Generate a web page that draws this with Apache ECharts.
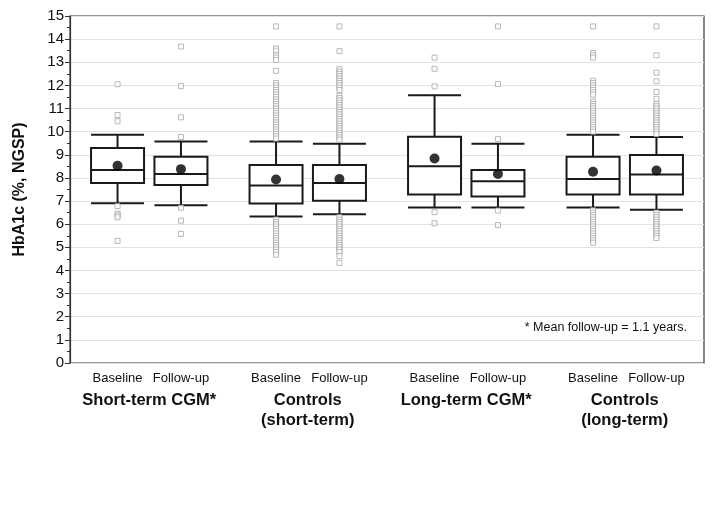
<!DOCTYPE html>
<html>
<head>
<meta charset="utf-8">
<script src="https://cdn.jsdelivr.net/npm/echarts@6/dist/echarts.min.js"></script>
<style>html,body{margin:0;padding:0;background:#fff;}#chart{width:719px;height:511px;}</style>
</head>
<body>
<div id="chart"></div>
<script>
// ---- data ----
const boxLabels = ['Baseline', 'Follow-up', 'Baseline', 'Follow-up', 'Baseline', 'Follow-up', 'Baseline', 'Follow-up'];
const groupLabels = ['Short-term CGM*', 'Controls\n(short-term)', 'Long-term CGM*', 'Controls\n(long-term)'];
const yTicks = [0, 15, 1];
const whiskerLow = [6.91, 6.82, 6.33, 6.43, 6.72, 6.72, 6.72, 6.62];
const q1Values = [7.78, 7.69, 6.89, 7.01, 7.28, 7.20, 7.28, 7.28];
const medianValues = [8.34, 8.17, 7.67, 7.78, 8.50, 7.86, 7.95, 8.15];
const q3Values = [9.29, 8.92, 8.56, 8.56, 9.78, 8.34, 8.92, 8.99];
const whiskerHigh = [9.87, 9.58, 9.58, 9.48, 11.57, 9.48, 9.87, 9.77];
const meanValues = [8.53, 8.38, 7.93, 7.95, 8.84, 8.17, 8.27, 8.32];
const outliers1 = [12.05, 10.72, 10.45, 6.78, 6.45, 6.38, 6.30, 5.28];
const outliers2 = [13.68, 11.97, 10.62, 9.77, 6.71, 6.15, 5.58];
const outliers3 = [14.55, 13.6, 13.5, 13.3, 13.2, 13.1, 12.63, 12.1, 12.0, 11.9, 11.8, 11.7, 11.6, 11.5, 11.4, 11.3, 11.2, 11.1, 11.0, 10.9, 10.8, 10.7, 10.6, 10.5, 10.4, 10.3, 10.2, 10.1, 10.0, 9.9, 9.8, 9.7,
  6.2, 6.1, 6.0, 5.9, 5.8, 5.7, 5.6, 5.5, 5.4, 5.3, 5.2, 5.1, 5.0, 4.9, 4.8, 4.68];
const outliers4 = [14.55, 13.48, 12.7, 12.6, 12.5, 12.4, 12.3, 12.2, 12.1, 12.0, 11.9, 11.8, 11.55, 11.45, 11.35, 11.25, 11.15, 11.05, 10.95, 10.85, 10.75, 10.65, 10.55, 10.45, 10.35, 10.25, 10.15, 10.05, 9.95, 9.85, 9.75, 9.65,
  6.3, 6.2, 6.1, 6.0, 5.9, 5.8, 5.7, 5.6, 5.5, 5.4, 5.3, 5.2, 5.1, 5.0, 4.9, 4.8, 4.62, 4.33];
const outliers5 = [13.2, 12.72, 11.96, 6.52, 6.04];
const outliers6 = [14.55, 12.06, 9.68, 6.59, 5.96];
const outliers7 = [14.55, 13.4, 13.3, 13.2, 12.2, 12.1, 12.0, 11.9, 11.8, 11.7, 11.6, 11.3, 11.2, 11.1, 11.0, 10.9, 10.8, 10.7, 10.6, 10.5, 10.4, 10.3, 10.2, 10.1, 10.0,
  6.6, 6.5, 6.4, 6.3, 6.2, 6.1, 6.0, 5.9, 5.8, 5.7, 5.6, 5.5, 5.4, 5.3, 5.2];
const outliers8 = [14.55, 13.3, 12.55, 12.18, 11.72, 11.42, 11.2, 11.1, 11.0, 10.9, 10.8, 10.7, 10.6, 10.5, 10.4, 10.3, 10.2, 10.1, 10.0, 9.9,
  6.5, 6.4, 6.3, 6.2, 6.1, 6.0, 5.9, 5.8, 5.7, 5.6, 5.5, 5.4];
const outlierLists = [outliers1, outliers2, outliers3, outliers4, outliers5, outliers6, outliers7, outliers8];
const footnote = '* Mean follow-up = 1.1 years.';

// ---- layout helpers ----
const SLOTS = 20;
function slotOf(i) { return Math.floor(i / 2) * 5 + 1 + 2 * (i % 2); }
const slotBoxLabels = new Array(SLOTS).fill('');
const slotGroupLabels = new Array(SLOTS).fill('');
boxLabels.forEach((l, i) => { slotBoxLabels[slotOf(i)] = l; });
groupLabels.forEach((l, g) => { slotGroupLabels[g * 5 + 2] = l; });

const boxData = boxLabels.map((_, i) => [slotOf(i), whiskerLow[i], q1Values[i], medianValues[i], q3Values[i], whiskerHigh[i]]);
const meanData = meanValues.map((v, i) => [slotOf(i), v]);
const outlierData = [];
outlierLists.forEach((list, i) => list.forEach(v => outlierData.push([slotOf(i), v])));

const FONT = '"Liberation Sans", Arial, Helvetica, sans-serif';
const chart = echarts.init(document.getElementById('chart'));
chart.setOption({
  animation: false,
  backgroundColor: '#fff',
  grid: { left: 70, right: 15, top: 16, bottom: 148, show: true, borderColor: '#333', borderWidth: 1.2, backgroundColor: 'transparent' },
  xAxis: [
    { type: 'value', min: -0.5, max: SLOTS - 0.5, show: false },
    { type: 'category', data: slotBoxLabels, position: 'bottom', boundaryGap: true,
      axisLine: { show: false }, axisTick: { show: false }, splitLine: { show: false },
      axisLabel: { interval: 0, margin: 9, fontFamily: FONT, fontSize: 13, color: '#111' } },
    { type: 'category', data: slotGroupLabels, position: 'bottom', boundaryGap: true,
      axisLine: { show: false }, axisTick: { show: false }, splitLine: { show: false },
      axisLabel: { interval: 0, margin: 27, fontFamily: FONT, fontSize: 16.5, fontWeight: 'bold', lineHeight: 20, color: '#111' } }
  ],
  yAxis: {
    type: 'value', min: yTicks[0], max: yTicks[1], interval: yTicks[2],
    name: 'HbA1c (%, NGSP)', nameLocation: 'middle', nameGap: 42,
    nameTextStyle: { fontFamily: FONT, fontSize: 16, fontWeight: 'bold', color: '#111' },
    axisLine: { show: true, onZero: false, lineStyle: { color: '#333', width: 1.2 } },
    axisTick: { show: true, length: 5, lineStyle: { color: '#333' } },
    minorTick: { show: true, splitNumber: 2, length: 3, lineStyle: { color: '#333' } },
    axisLabel: { margin: 6, fontFamily: FONT, fontSize: 15, color: '#111' },
    splitLine: { show: true, lineStyle: { color: '#e2e2e2', width: 1 } }
  },
  series: [
    { type: 'boxplot', xAxisIndex: 0, data: boxData, boxWidth: [53, 53],
      itemStyle: { color: '#fff', borderColor: '#1a1a1a', borderWidth: 2 },
      emphasis: { disabled: true }, z: 2 },
    { type: 'scatter', xAxisIndex: 0, data: outlierData, symbol: 'rect', symbolSize: 5,
      itemStyle: { color: '#fff', borderColor: '#a8a8a8', borderWidth: 1 }, emphasis: { disabled: true }, z: 3 },
    { type: 'scatter', xAxisIndex: 0, data: meanData, symbol: 'circle', symbolSize: 10,
      itemStyle: { color: '#000' }, emphasis: { disabled: true }, z: 4 }
  ],
  graphic: [
    { type: 'text', right: 32, top: 321, style: { text: footnote, font: '12.5px ' + FONT, fill: '#111' } }
  ]
});
</script>
</body>
</html>
